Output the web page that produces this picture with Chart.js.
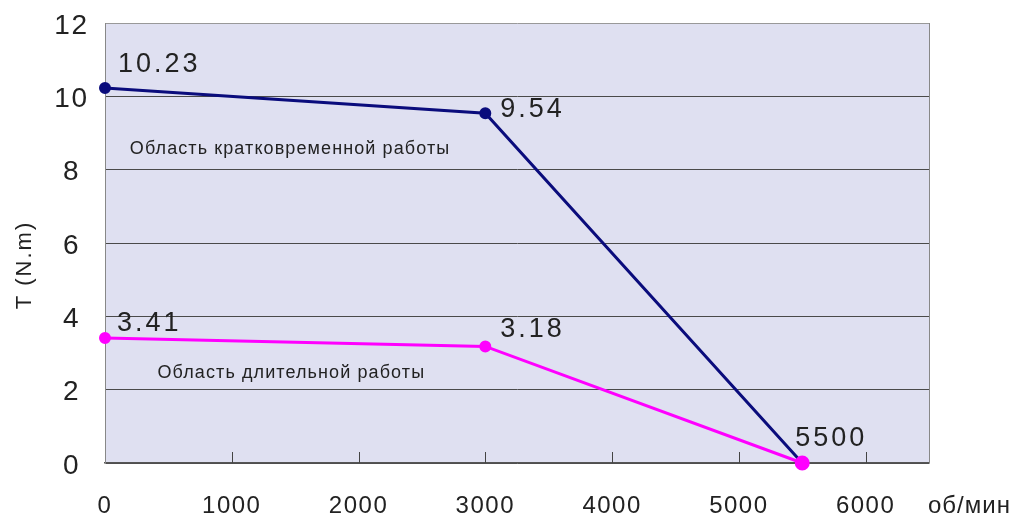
<!DOCTYPE html>
<html>
<head>
<meta charset="utf-8">
<script src="https://cdn.jsdelivr.net/npm/chart.js@4/dist/chart.umd.min.js"></script>
<style>
  html, body { margin: 0; padding: 0; background: #fff; }
  #wrap { width: 1013px; height: 518px; }
</style>
</head>
<body>
<div id="wrap"><canvas id="torque"></canvas></div>
<script>
const speeds = [0, 3000, 5500];
const peakTorque = [10.23, 9.54, 0];
const ratedTorque = [3.41, 3.18, 0];
const peakLabels = ['10.23', '9.54', ''];
const ratedLabels = ['3.41', '3.18', '5500'];
const xTicks = [0, 1000, 2000, 3000, 4000, 5000, 6000];
const yTicks = [0, 2, 4, 6, 8, 10, 12];
const regions = [
  { text: 'Область кратковременной работы', x: 1460, y: 8.56 },
  { text: 'Область длительной работы', x: 1470, y: 2.45 }
];

const FONT = '"Liberation Sans", Arial, sans-serif';

const toPoints = (xs, ys) => xs.map((x, i) => ({ x: x, y: ys[i] }));

// background, inner x ticks, value labels, region captions, axis texts
const decor = {
  id: 'decor',
  beforeInit(chart) {
    chart.ctx.letterSpacing = '1.5px';
  },
  beforeDraw(chart) {
    const { ctx, chartArea: a } = chart;
    ctx.letterSpacing = '1.5px';
    ctx.save();
    ctx.fillStyle = '#dfe0f1';
    ctx.fillRect(a.left, a.top, a.right - a.left, a.bottom - a.top);
    ctx.restore();
  },
  afterDatasetsDraw(chart) {
    const { ctx, chartArea: a, scales } = chart;
    const xs = scales.x, ys = scales.y;
    ctx.save();
    // short ticks inside the plot
    ctx.strokeStyle = '#444';
    ctx.lineWidth = 1;
    xTicks.forEach(v => {
      if (v === 0) return;
      const px = Math.round(xs.getPixelForValue(v)) + 0.5;
      ctx.beginPath();
      ctx.moveTo(px, a.bottom);
      ctx.lineTo(px, a.bottom - 11);
      ctx.stroke();
    });
    // value labels
    ctx.fillStyle = '#222';
    ctx.font = '27px ' + FONT;
    ctx.letterSpacing = '3px';
    ctx.textBaseline = 'middle';
    ctx.textAlign = 'left';
    const label = (xv, yv, txt, dx, dy) => {
      if (!txt) return;
      ctx.fillText(txt, xs.getPixelForValue(xv) + dx, ys.getPixelForValue(yv) + dy);
    };
    speeds.forEach((s, i) => {
      label(s, peakTorque[i], peakLabels[i], s === 0 ? 13 : 15, s === 0 ? -23 : -4);
      if (i < 2) label(s, ratedTorque[i], ratedLabels[i], s === 0 ? 12 : 15, s === 0 ? -14 : -17);
      else label(s, ratedTorque[i], ratedLabels[i], -7, -24);
    });
    // region captions
    ctx.font = '18px ' + FONT;
    ctx.letterSpacing = '1.1px';
    ctx.textAlign = 'center';
    regions.forEach(r => {
      ctx.fillText(r.text, xs.getPixelForValue(r.x), ys.getPixelForValue(r.y));
    });
    // unit at the end of x axis
    ctx.font = '24px ' + FONT;
    ctx.letterSpacing = '1px';
    ctx.textAlign = 'left';
    ctx.fillText('об/мин', a.right - 1, a.bottom + 43);
    // y axis title
    ctx.translate(25, 265);
    ctx.rotate(-Math.PI / 2);
    ctx.textAlign = 'center';
    ctx.font = '22px ' + FONT;
    ctx.letterSpacing = '2px';
    ctx.fillText('T (N.m)', 0, 0);
    ctx.restore();
  }
};

new Chart(document.getElementById('torque'), {
  type: 'line',
  data: {
    datasets: [
      {
        label: 'peak',
        data: toPoints(speeds, peakTorque),
        borderColor: '#0a0c7c',
        backgroundColor: '#0a0c7c',
        borderWidth: 3,
        pointRadius: 4.5,
        pointHoverRadius: 4.5,
        tension: 0,
        order: 1
      },
      {
        label: 'rated',
        data: toPoints(speeds, ratedTorque),
        borderColor: '#ff00ff',
        backgroundColor: '#ff00ff',
        borderWidth: 3,
        pointRadius: [4.5, 4.5, 6],
        pointHoverRadius: [4.5, 4.5, 6],
        tension: 0,
        order: 0
      }
    ]
  },
  options: {
    responsive: true,
    maintainAspectRatio: false,
    animation: false,
    clip: false,
    layout: { padding: { top: 23, right: 84, left: 0, bottom: 0 } },
    plugins: {
      legend: { display: false },
      tooltip: { enabled: false }
    },
    scales: {
      x: {
        type: 'linear',
        min: 0,
        max: 6500,
        afterFit(scale) {
          scale.height = 55;
          scale.paddingLeft = 0;
          scale.paddingRight = 0;
        },
        afterBuildTicks(scale) { scale.ticks = xTicks.map(v => ({ value: v })); },
        border: { display: true, color: '#555', width: 1.5 },
        grid: { display: false, drawTicks: false },
        ticks: {
          padding: 29,
          color: '#222',
          font: { family: FONT, size: 24 },
          maxRotation: 0,
          callback: v => String(v)
        }
      },
      y: {
        min: 0,
        max: 12,
        afterFit(scale) {
          scale.width = 105;
          scale.paddingTop = 0;
          scale.paddingBottom = 0;
        },
        afterBuildTicks(scale) { scale.ticks = yTicks.map(v => ({ value: v })); },
        border: { display: true, color: '#888', width: 1 },
        grid: {
          drawTicks: false,
          color: ctx => (ctx.tick && ctx.tick.value === 12) ? '#999' : '#4a4a4a',
          lineWidth: 1
        },
        ticks: {
          padding: 18,
          labelOffset: 3,
          crossAlign: 'center',
          color: '#222',
          font: { family: FONT, size: 28 }
        }
      }
    }
  },
  plugins: [decor, {
    id: 'rightBorder',
    afterDraw(chart) {
      const { ctx, chartArea: a } = chart;
      ctx.save();
      ctx.strokeStyle = '#888';
      ctx.lineWidth = 1;
      ctx.beginPath();
      ctx.moveTo(a.right + 0.5, a.top);
      ctx.lineTo(a.right + 0.5, a.bottom);
      ctx.stroke();
      ctx.restore();
    }
  }]
});
</script>
</body>
</html>
